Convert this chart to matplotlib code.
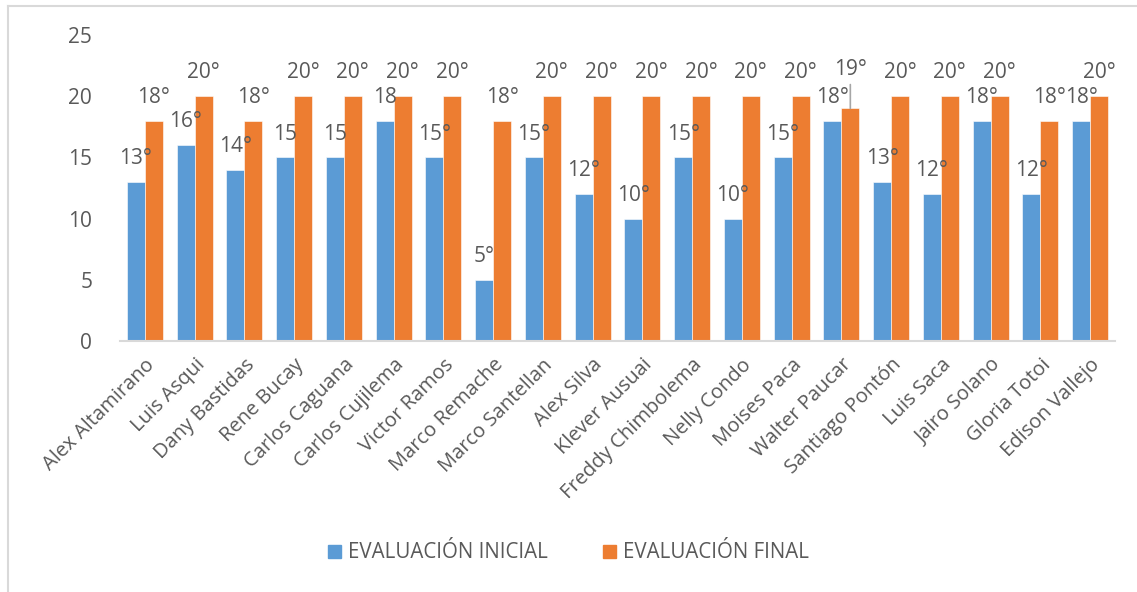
import numpy as np
import matplotlib
matplotlib.use("Agg")
from matplotlib import pyplot as plt
from matplotlib.lines import Line2D
from matplotlib.patches import Patch

names = ["Alex Altamirano", "Luis Asqui", "Dany Bastidas", "Rene Bucay", "Carlos Caguana",
         "Carlos Cujilema", "Victor Ramos", "Marco Remache", "Marco Santellan", "Alex Silva",
         "Klever Ausuai", "Freddy Chimbolema", "Nelly Condo", "Moises Paca", "Walter Paucar",
         "Santiago Pontón", "Luis Saca", "Jairo Solano", "Gloria Totoi", "Edison Vallejo"]
inicial = [13, 16, 14, 15, 15, 18, 15, 5, 15, 12, 10, 15, 10, 15, 18, 13, 12, 18, 12, 18]
final = [18, 20, 18, 20, 20, 20, 20, 18, 20, 20, 20, 20, 20, 20, 19, 20, 20, 20, 18, 20]
# labels as shown on the chart (some without the degree sign)
inicial_lbl = ["13°", "16°", "14°", "15", "15", "18", "15°", "5°", "15°", "12°",
               "10°", "15°", "10°", "15°", "18°", "13°", "12°", "18°", "12°", "18°"]
final_lbl = [str(v) + "°" for v in final]

blue = "#5B9BD5"
orange = "#ED7D31"
txt = "#595959"
grey = "#D9D9D9"
font = "Open Sans"

W, H = 1137, 592
fig = plt.figure(figsize=(W / 100, H / 100), dpi=100)
ax = fig.add_axes([120 / W, 1 - 341 / H, 995 / W, 306 / H])

x = np.arange(len(names))
w = 0.36
ax.bar(x - w / 2, inicial, w, color=blue, edgecolor="white", linewidth=0.4, zorder=2)
ax.bar(x + w / 2, final, w, color=orange, edgecolor="white", linewidth=0.4, zorder=2)

ax.set_xlim(-0.5, len(names) - 0.5)
ax.set_ylim(0, 25)
ax.set_yticks(range(0, 26, 5))
ax.tick_params(axis="y", length=0, pad=20, labelsize=15, labelcolor=txt)
ax.tick_params(axis="x", length=0, pad=10, labelcolor=txt)
for lbl in ax.get_yticklabels():
    lbl.set_family(font)
ax.set_xticks(x)
ax.set_xticklabels(names, rotation=45, ha="right", rotation_mode="anchor",
                   fontsize=14.5, family=font)

for s in ["left", "right", "top"]:
    ax.spines[s].set_visible(False)
ax.spines["bottom"].set_color(grey)
ax.spines["bottom"].set_linewidth(1.5)

# data labels
off = 1.45
for i in range(len(names)):
    ax.text(x[i] - w / 2, inicial[i] + off, inicial_lbl[i], ha="center", va="baseline",
            fontsize=15, color=txt, family=font)
    if final[i] == 19:
        # label pushed up with a leader line
        ax.annotate(final_lbl[i], xy=(x[i] + w / 2, final[i]), xytext=(x[i] + w / 2, final[i] + 2.7),
                    ha="center", va="baseline", fontsize=15, color=txt, family=font,
                    arrowprops=dict(arrowstyle="-", color="#A6A6A6", lw=1.2, shrinkA=1, shrinkB=0))
    else:
        ax.text(x[i] + w / 2, final[i] + off, final_lbl[i], ha="center", va="baseline",
                fontsize=15, color=txt, family=font)

handles = [Patch(color=blue, label="EVALUACIÓN INICIAL"),
           Patch(color=orange, label="EVALUACIÓN FINAL")]
fig.legend(handles=handles, loc="center", bbox_to_anchor=(0.5, 1 - 553 / H), ncol=2,
           frameon=False, handlelength=0.62, handleheight=0.62, handletextpad=0.35,
           columnspacing=2.7, prop={"family": font, "size": 14.8}, labelcolor=txt)

# chart border
fig.add_artist(Line2D([7.5 / W, 7.5 / W], [0, 1 - 6 / H], transform=fig.transFigure, color=grey, lw=1.5))
fig.add_artist(Line2D([7.5 / W, 1], [1 - 6 / H, 1 - 6 / H], transform=fig.transFigure, color=grey, lw=1.5))

fig.savefig("out.png", dpi=100, facecolor="white")
